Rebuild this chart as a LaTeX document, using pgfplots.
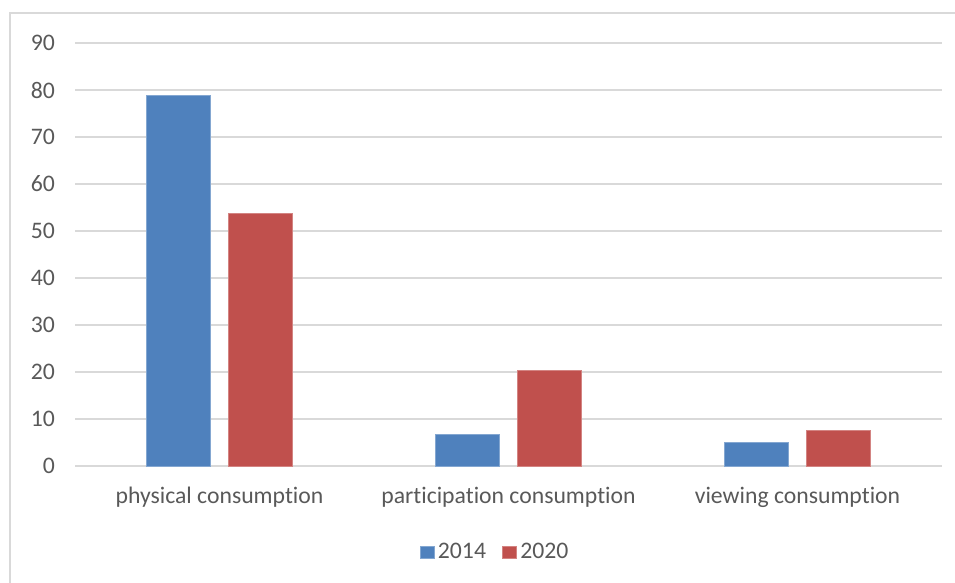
\documentclass[border=0pt]{standalone}
\usepackage{pgfplots}
\pgfplotsset{compat=1.18}
\usepackage{fontspec}
\setmainfont{Carlito}[Ligatures=NoCommon]
\definecolor{bblue}{HTML}{4F81BD}
\definecolor{bred}{HTML}{C0504D}
\definecolor{gridgray}{HTML}{D9D9D9}
\definecolor{txt}{HTML}{595959}
\begin{document}
\begin{tikzpicture}
\useasboundingbox (0bp,0bp) rectangle (955bp,-583bp);
\draw[gridgray, line width=1.5bp] (10bp,-583bp) -- (10bp,-13bp) -- (955bp,-13bp);
\begin{axis}[
  at={(75bp,-466bp)}, anchor=south west,
  scale only axis, width=867bp, height=423bp,
  xmin=-0.5, xmax=2.5, ymin=0, ymax=90,
  ytick={0,10,...,90},
  xtick={0,1,2},
  xticklabels={physical consumption, participation consumption, viewing consumption},
  axis line style={draw=none},
  major tick length=0pt,
  ymajorgrids, grid style={gridgray, line width=1.5bp},
  tick label style={font=\fontsize{23.8}{28}\selectfont, text=txt},
  /pgf/number format/assume math mode=true,
  yticklabel style={inner sep=0pt, anchor=east, xshift=-20bp},
  xticklabel style={inner sep=0pt, anchor=north, yshift=-21bp},
  ybar, bar width=64bp,
  legend columns=2,
  legend style={at={(0.4856,-0.2033)}, anchor=center, draw=none,
    font=\fontsize{23.8}{28}\selectfont, text=txt,
    nodes={inner sep=4bp},
    /tikz/every even column/.append style={column sep=12bp}},
  legend image code/.code={\fill[#1] (0bp,-6bp) rectangle (14bp,6bp);},
]
\addplot[fill=bblue, draw=bblue!70!white, bar shift=-41bp] coordinates {(0,78.9) (1,6.7) (2,5.1)};
\addplot[fill=bred, draw=bred!70!white, bar shift=41bp] coordinates {(0,53.7) (1,20.4) (2,7.6)};
\legend{2014,2020}
\end{axis}
\end{tikzpicture}
\end{document}
